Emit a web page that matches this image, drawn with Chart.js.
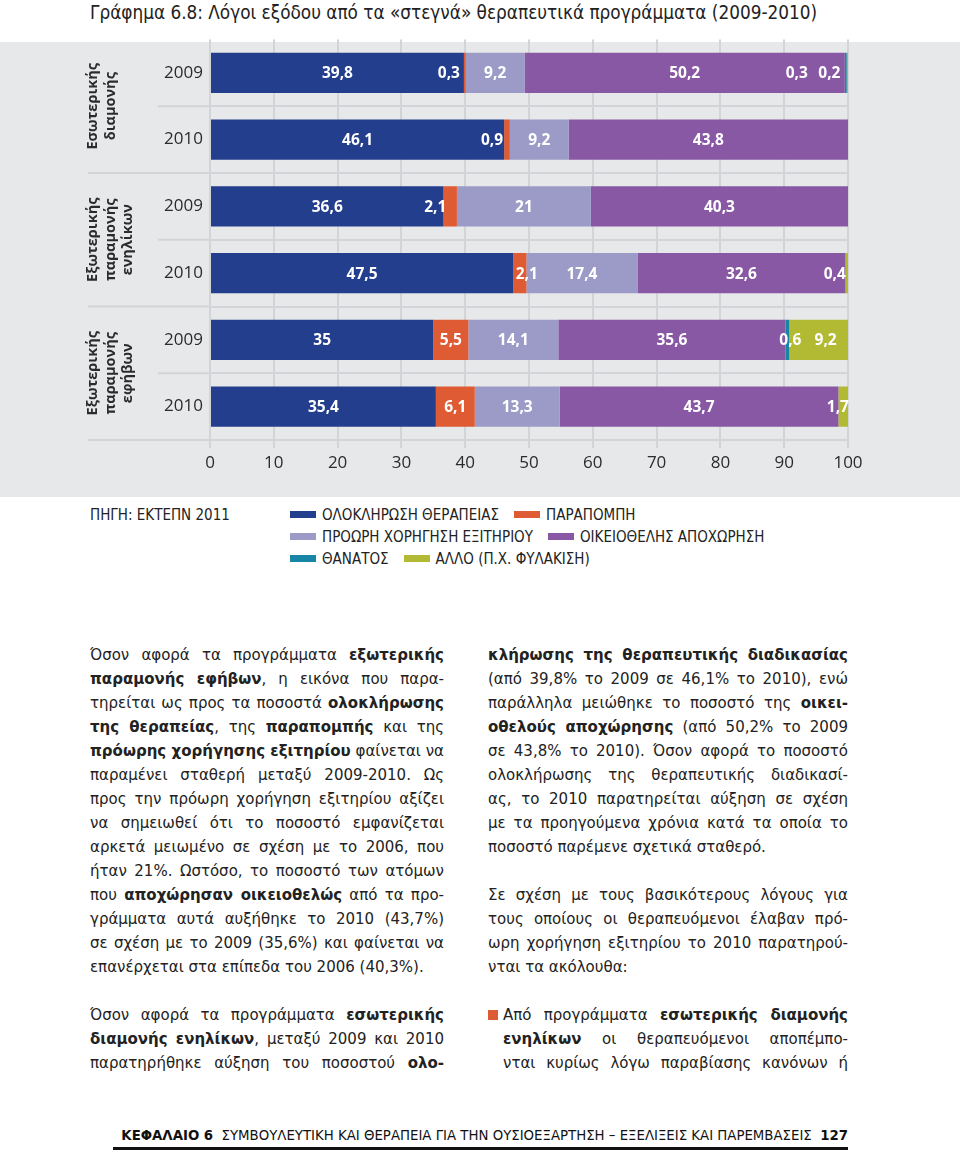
<!DOCTYPE html>
<html lang="el">
<head>
<meta charset="utf-8">
<script src="https://cdn.jsdelivr.net/npm/chart.js@4.4.1/dist/chart.umd.min.js"></script>
<style>
body{margin:0;background:#fff;}
#page{position:relative;width:960px;height:1151px;overflow:hidden;color:#222;}
#title{position:absolute;left:90px;top:0;font-family:"Liberation Sans Narrow","DejaVu Sans Condensed",sans-serif;font-size:18.8px;line-height:26px;color:#222;white-space:nowrap;}
#panel{position:absolute;left:0;top:42px;width:960px;height:455px;background:#e7e8e9;}
#chartBox{position:absolute;left:0;top:30px;width:960px;height:467px;}
#legend{position:absolute;left:0;top:504px;width:960px;font-family:"Liberation Sans Narrow","DejaVu Sans Condensed",sans-serif;font-size:15px;color:#222;}
#source{position:absolute;left:90px;top:0;line-height:22px;white-space:nowrap;}
#items{position:absolute;left:290px;top:0;}
.lrow{height:22px;line-height:22px;white-space:nowrap;}
.li{display:inline-block;margin-right:15px;}
.sw{display:inline-block;width:26px;height:7px;margin-right:6px;vertical-align:middle;position:relative;top:-1px;}
.col{position:absolute;top:643px;font-family:"DejaVu Sans",sans-serif;font-size:15px;color:#222;}
.col div{height:24px;line-height:24px;white-space:nowrap;}
.col .j{text-align:justify;text-align-last:justify;}
.col b{font-weight:bold;}
#left{left:90px;width:354px;}
#right{left:488px;width:360px;}
.bul{display:inline-block;width:10px;height:10px;background:#dd5c35;margin-right:5px;vertical-align:baseline;}
#footer{position:absolute;left:113px;top:1124px;width:735px;text-align:right;font-family:"Liberation Sans Narrow","DejaVu Sans Condensed",sans-serif;font-size:14.8px;line-height:22px;white-space:nowrap;color:#111;}
#rule{position:absolute;left:113px;top:1147px;width:735px;height:3px;background:#111;}
</style>
</head>
<body>
<div id="page">
  <div id="title">Γράφημα 6.8: Λόγοι εξόδου από τα «στεγνά» θεραπευτικά προγράμματα (2009-2010)</div>
  <div id="panel"></div>
  <div id="chartBox"><canvas id="chart" width="960" height="467"></canvas></div>
  <div id="legend">
    <div id="source">ΠΗΓΗ: ΕΚΤΕΠΝ 2011</div>
    <div id="items"></div>
  </div>

  <div class="col" id="left">
    <div class="j">Όσον αφορά τα προγράμματα <b>εξωτερικής</b></div>
    <div class="j"><b>παραμονής εφήβων</b>, η εικόνα που παρα-</div>
    <div class="j">τηρείται ως προς τα ποσοστά <b>ολοκλήρωσης</b></div>
    <div class="j"><b>της θεραπείας</b>, της <b>παραπομπής</b> και της</div>
    <div class="j"><b>πρόωρης χορήγησης εξιτηρίου</b> φαίνεται να</div>
    <div class="j">παραμένει σταθερή μεταξύ 2009-2010. Ως</div>
    <div class="j">προς την πρόωρη χορήγηση εξιτηρίου αξίζει</div>
    <div class="j">να σημειωθεί ότι το ποσοστό εμφανίζεται</div>
    <div class="j">αρκετά μειωμένο σε σχέση με το 2006, που</div>
    <div class="j">ήταν 21%. Ωστόσο, το ποσοστό των ατόμων</div>
    <div class="j">που <b>αποχώρησαν οικειοθελώς</b> από τα προ-</div>
    <div class="j">γράμματα αυτά αυξήθηκε το 2010 (43,7%)</div>
    <div class="j">σε σχέση με το 2009 (35,6%) και φαίνεται να</div>
    <div>επανέρχεται στα επίπεδα του 2006 (40,3%).</div>
    <div></div>
    <div class="j">Όσον αφορά τα προγράμματα <b>εσωτερικής</b></div>
    <div class="j"><b>διαμονής ενηλίκων</b>, μεταξύ 2009 και 2010</div>
    <div class="j">παρατηρήθηκε αύξηση του ποσοστού <b>ολο-</b></div>
  </div>

  <div class="col" id="right">
    <div class="j"><b>κλήρωσης της θεραπευτικής διαδικασίας</b></div>
    <div class="j">(από 39,8% το 2009 σε 46,1% το 2010), ενώ</div>
    <div class="j">παράλληλα μειώθηκε το ποσοστό της <b>οικει-</b></div>
    <div class="j"><b>οθελούς αποχώρησης</b> (από 50,2% το 2009</div>
    <div class="j">σε 43,8% το 2010). Όσον αφορά το ποσοστό</div>
    <div class="j">ολοκλήρωσης της θεραπευτικής διαδικασί-</div>
    <div class="j">ας, το 2010 παρατηρείται αύξηση σε σχέση</div>
    <div class="j">με τα προηγούμενα χρόνια κατά τα οποία το</div>
    <div>ποσοστό παρέμενε σχετικά σταθερό.</div>
    <div></div>
    <div class="j">Σε σχέση με τους βασικότερους λόγους για</div>
    <div class="j">τους οποίους οι θεραπευόμενοι έλαβαν πρό-</div>
    <div class="j">ωρη χορήγηση εξιτηρίου το 2010 παρατηρού-</div>
    <div>νται τα ακόλουθα:</div>
    <div></div>
    <div class="j"><span class="bul"></span>Από προγράμματα <b>εσωτερικής διαμονής</b></div>
    <div class="j" style="padding-left:15px"><b>ενηλίκων</b> οι θεραπευόμενοι αποπέμπο-</div>
    <div class="j" style="padding-left:15px">νται κυρίως λόγω παραβίασης κανόνων ή</div>
  </div>

  <div id="footer"><b>ΚΕΦΑΛΑΙΟ 6</b>&nbsp; ΣΥΜΒΟΥΛΕΥΤΙΚΗ ΚΑΙ ΘΕΡΑΠΕΙΑ ΓΙΑ ΤΗΝ ΟΥΣΙΟΕΞΑΡΤΗΣΗ – ΕΞΕΛΙΞΕΙΣ ΚΑΙ ΠΑΡΕΜΒΑΣΕΙΣ&nbsp; <b>127</b></div>
  <div id="rule"></div>
</div>

<script>
// rows: programme x year
const years=['2009','2010','2009','2010','2009','2010']
const groups=[['Εσωτερικής','διαμονής'],['Εξωτερικής','παραμονής','ενηλίκων'],['Εξωτερικής','παραμονής','εφήβων']]
const reasons=['ΟΛΟΚΛΗΡΩΣΗ ΘΕΡΑΠΕΙΑΣ','ΠΑΡΑΠΟΜΠΗ','ΠΡΟΩΡΗ ΧΟΡΗΓΗΣΗ ΕΞΙΤΗΡΙΟΥ','ΟΙΚΕΙΟΘΕΛΗΣ ΑΠΟΧΩΡΗΣΗ','ΘΑΝΑΤΟΣ','ΑΛΛΟ (Π.Χ. ΦΥΛΑΚΙΣΗ)']
const completion=[39.8,46.1,36.6,47.5,35,35.4]
const referral=[0.3,0.9,2.1,2.1,5.5,6.1]
const earlyRelease=[9.2,9.2,21,17.4,14.1,13.3]
const dropout=[50.2,43.8,40.3,32.6,35.6,43.7]
const death=[0.3,0,0,0,0.6,0]
const other=[0.2,0,0,0.4,9.2,1.7]
const xTicks=[0,10,20,30,40,50,60,70,80,90,100]

const colors=['#233e8c','#de5b33','#9c9bc8','#8858a4','#1786a6','#b2ba33']
const series=[completion,referral,earlyRelease,dropout,death,other]
const gridColor='#d3d4d7'

// small segments: labels were moved by hand in the original
const nudge={'1-0':-16,'4-0':-49,'5-0':-18,'1-1':-15,'1-2':-15,'1-3':7,'5-3':-12,'4-4':3,'5-4':7,'5-5':-6}

const barLabels={
id:'barLabels',
afterDatasetsDraw(chart){
const ctx=chart.ctx
ctx.save()
ctx.font='bold 15.5px "Open Sans", sans-serif'
ctx.fillStyle='#fff'
ctx.textAlign='center'
ctx.textBaseline='middle'
chart.data.datasets.forEach((ds,di)=>{
chart.getDatasetMeta(di).data.forEach((bar,i)=>{
const v=ds.data[i]
if(!v)return
const p=bar.getProps(['x','y','base'],true)
const dx=nudge[di+'-'+i]||0
ctx.fillText(String(v).replace('.',','),(p.x+p.base)/2+dx,p.y+1)
})
})
ctx.restore()
}
}

const groupLabels={
id:'groupLabels',
beforeDatasetsDraw(chart){
const ctx=chart.ctx
const y=chart.scales.y
const area=chart.chartArea
const band=y.getPixelForValue(1)-y.getPixelForValue(0)
ctx.save()
// row separators run into the label column, past the group names between groups
ctx.strokeStyle=gridColor
ctx.lineWidth=2
for(let i=1;i<=years.length;i++){
const yy=y.getPixelForValue(i)-band/2
ctx.beginPath()
ctx.moveTo(i%2===0?88:158,yy)
ctx.lineTo(area.left,yy)
ctx.stroke()
}
ctx.fillStyle='#2b2b2b'
ctx.font='bold 14.5px "Open Sans", sans-serif'
ctx.textAlign='center'
ctx.textBaseline='middle'
groups.forEach((lines,g)=>{
const cy=(y.getPixelForValue(g*2)+y.getPixelForValue(g*2+1))/2
ctx.save()
ctx.translate(93,cy)
ctx.rotate(-Math.PI/2)
lines.forEach((t,k)=>ctx.fillText(t,0,k*17.5))
ctx.restore()
})
ctx.restore()
}
}

new Chart(document.getElementById('chart'),{
type:'bar',
data:{
labels:years,
datasets:reasons.map((r,i)=>({
label:r,
data:series[i],
backgroundColor:colors[i],
borderWidth:0,
barPercentage:0.6,
categoryPercentage:1
}))
},
options:{
indexAxis:'y',
responsive:false,
animation:false,
layout:{padding:{top:9.5,right:112,bottom:18.6,left:0}},
plugins:{legend:{display:false},tooltip:{enabled:false}},
scales:{
x:{
stacked:true,
min:0,
max:100,
afterBuildTicks(s){s.ticks=xTicks.map(v=>({value:v}))},
grid:{color:gridColor,lineWidth:2,tickLength:8},
border:{display:false},
ticks:{font:{family:'"Open Sans", sans-serif',size:17},color:'#2b2b2b',padding:5}
},
y:{
stacked:true,
afterFit(s){s.width=210;s.paddingTop=0;s.paddingBottom=0},
grid:{offset:true,drawTicks:false,lineWidth:2,color:c=>c.index===0?'rgba(0,0,0,0)':gridColor},
border:{display:false},
ticks:{font:{family:'"Open Sans", sans-serif',size:17},color:'#2b2b2b',padding:7}
}
}
},
plugins:[groupLabels,barLabels]
})

// legend, two entries per row
const items=document.getElementById('items')
for(let r=0;r<3;r++){
const row=document.createElement('div')
row.className='lrow'
for(let k=0;k<2;k++){
const i=r*2+k
const it=document.createElement('span')
it.className='li'
it.innerHTML='<span class="sw" style="background:'+colors[i]+'"></span>'+reasons[i]
row.appendChild(it)
}
items.appendChild(row)
}
</script>
</body>
</html>
